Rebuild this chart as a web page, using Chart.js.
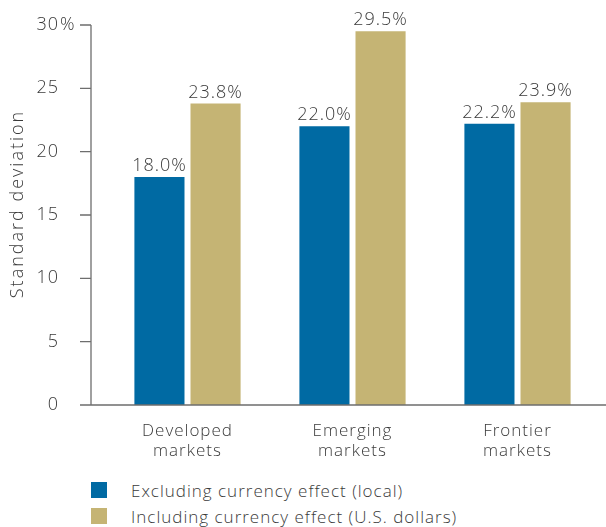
<!DOCTYPE html>
<html>
<head>
<meta charset="utf-8">
<script src="https://cdn.jsdelivr.net/npm/chart.js@4"></script>
<style>
  body { margin: 0; background: #fff; font-family: "Open Sans", sans-serif; }
  #wrap { position: relative; width: 606px; height: 527px; }
  #legend { position: absolute; left: 91px; top: 477px; }
  .item { display: flex; align-items: center; height: 26px; color: #3a3a3a; font-size: 17px; font-weight: 300; letter-spacing: 1px; }
  .box { width: 16px; height: 16px; margin-right: 24px; }
</style>
</head>
<body>
<div id="wrap">
  <canvas id="chart" width="606" height="470"></canvas>
  <div id="legend"></div>
</div>
<script>
const categories = [['Developed', 'markets'], ['Emerging', 'markets'], ['Frontier', 'markets']];
const localValues = [18.0, 22.0, 22.2];
const usdValues = [23.8, 29.5, 23.9];
const seriesNames = ['Excluding currency effect (local)', 'Including currency effect (U.S. dollars)'];
const seriesColors = ['#006aa3', '#c5b474'];
const yTicks = [0, 5, 10, 15, 20, 25, 30];
const yTitle = 'Standard deviation';

const textColor = '#3a3a3a';
const axisColor = '#6e6e6e';
const fontFamily = 'Open Sans';
const labelGap = 46;

// wider letter spacing, axis lines, tick marks, hanging %, title and bar value labels
const extras = {
  id: 'extras',
  beforeLayout(chart) { chart.ctx.letterSpacing = '1px'; },
  beforeDraw(chart) { chart.ctx.letterSpacing = '1px'; },
  afterDraw(chart) {
    const c = chart.ctx;
    const area = chart.chartArea;
    const y = chart.scales.y;
    const axisX = area.left - 14;
    c.save();
    c.strokeStyle = axisColor;
    c.lineWidth = 1.3;
    c.beginPath();
    c.moveTo(axisX, y.getPixelForValue(30));
    c.lineTo(axisX, y.getPixelForValue(0));
    yTicks.forEach(t => {
      const py = y.getPixelForValue(t);
      c.moveTo(axisX - 11, py);
      c.lineTo(axisX, py);
    });
    c.moveTo(axisX - 11, area.bottom);
    c.lineTo(chart.width, area.bottom);
    c.stroke();

    c.fillStyle = textColor;
    c.font = '300 18px "' + fontFamily + '"';
    c.textBaseline = 'middle';
    c.textAlign = 'left';
    c.fillText('%', area.left - labelGap + 1, y.getPixelForValue(30));

    c.textAlign = 'center';
    c.textBaseline = 'bottom';
    chart.data.datasets.forEach((ds, i) => {
      chart.getDatasetMeta(i).data.forEach((bar, j) => {
        c.fillText(ds.data[j].toFixed(1) + '%', bar.x, bar.y - 2);
      });
    });

    c.save();
    c.letterSpacing = '2px';
    c.translate(18, 204);
    c.rotate(-Math.PI / 2);
    c.textBaseline = 'middle';
    c.fillText(yTitle, 0, 0);
    c.restore();
    c.restore();
  }
};

const chart = new Chart(document.getElementById('chart'), {
  type: 'bar',
  data: {
    labels: categories,
    datasets: [
      { label: seriesNames[0], data: localValues, backgroundColor: seriesColors[0] },
      { label: seriesNames[1], data: usdValues, backgroundColor: seriesColors[1] }
    ]
  },
  options: {
    responsive: false,
    animation: false,
    categoryPercentage: 0.68,
    barPercentage: 0.893,
    layout: { padding: { top: 25, right: 6, left: 0, bottom: 0 } },
    scales: {
      x: {
        grid: { display: false, drawTicks: false },
        border: { display: false },
        ticks: { color: textColor, font: { family: fontFamily, size: 17, weight: 300, lineHeight: 1.2 }, padding: 16, maxRotation: 0 },
        afterFit: s => { s.height = 65; }
      },
      y: {
        min: 0,
        max: 30,
        afterBuildTicks: s => { s.ticks = yTicks.map(v => ({ value: v })); },
        grid: { display: false, drawTicks: false },
        border: { display: false },
        ticks: { color: textColor, font: { family: fontFamily, size: 18, weight: 300 }, padding: labelGap },
        afterFit: s => { s.width = 105; s.paddingTop = 0; s.paddingBottom = 0; }
      }
    },
    plugins: {
      legend: { display: false },
      tooltip: { enabled: false }
    }
  },
  plugins: [extras]
});

const legend = document.getElementById('legend');
seriesNames.forEach((name, i) => {
  const item = document.createElement('div');
  item.className = 'item';
  item.innerHTML = '<span class="box" style="background:' + seriesColors[i] + '"></span>' + name;
  legend.appendChild(item);
});
</script>
</body>
</html>
